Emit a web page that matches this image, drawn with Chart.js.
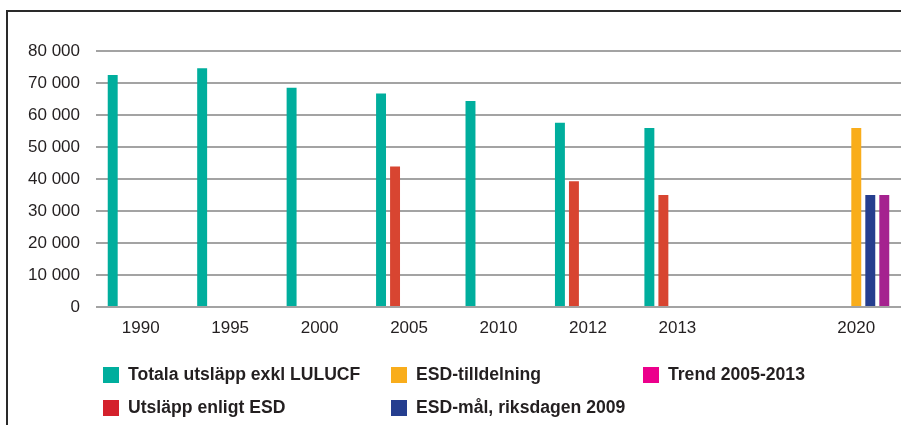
<!DOCTYPE html>
<html>
<head>
<meta charset="utf-8">
<script src="https://cdn.jsdelivr.net/npm/chart.js@4/dist/chart.umd.min.js"></script>
<style>
    html, body { margin: 0; padding: 0; background: #fff; overflow: hidden; }
    #wrap { position: relative; width: 903px; height: 425px; overflow: hidden; }
    .rule { position: absolute; background: #2a2a2a; }
    #ruleTop { left: 6px; top: 10px; width: 895px; height: 2px; }
    #ruleLeft { left: 6px; top: 10px; width: 2px; height: 415px; }
    #chartBox { position: absolute; left: 0; top: 0; width: 903px; height: 425px; }
    #legend { position: absolute; left: 0; top: 0; width: 903px; height: 425px; }
    .item {
        position: absolute; display: flex; align-items: center;
        font: bold 17.6px 'Liberation Sans', Arial, sans-serif; color: #231f20;
        white-space: nowrap;
    }
    .item i { display: inline-block; width: 16px; height: 16px; margin-right: 9px; }
</style>
</head>
<body>
<div id="wrap">
    <div class="rule" id="ruleTop"></div>
    <div class="rule" id="ruleLeft"></div>
    <div id="chartBox"><canvas id="c"></canvas></div>
    <div id="legend"></div>
</div>
<script>
const categories = ['1990', '1995', '2000', '2005', '2010', '2012', '2013', '', '2020'];

const totalaUtslapp = [72500, 74600, 68500, 66700, 64400, 57600, 55900, null, null];
const utslappEsd    = [null, null, null, 43900, null, 39300, 35000, null, null];
const esdTilldelning = [null, null, null, null, null, null, null, null, 55900];
const esdMal        = [null, null, null, null, null, null, null, null, 35000];
const trend         = [null, null, null, null, null, null, null, null, 35000];

const yTicks = [0, 10000, 20000, 30000, 40000, 50000, 60000, 70000, 80000];

const SERIES = [
    { label: 'Totala utsläpp exkl LULUCF', data: totalaUtslapp, bar: '#00ae9d', key: '#00ae9d' },
    { label: 'Utsläpp enligt ESD', data: utslappEsd, bar: '#d84531', key: '#d4212c' },
    { label: 'ESD-tilldelning', data: esdTilldelning, bar: '#f9ad1b', key: '#f9ad1b' },
    { label: 'ESD-mål, riksdagen 2009', data: esdMal, bar: '#253e8f', key: '#253e8f' },
    { label: 'Trend 2005-2013', data: trend, bar: '#a5228f', key: '#ec008c' },
];

const FONT = "'Liberation Sans', Arial, sans-serif";
const TEXT = '#231f20';

const fmt = (v) => String(v).replace(/\B(?=(\d{3})+(?!\d))/g, ' ');

new Chart(document.getElementById('c'), {
    type: 'bar',
    data: {
        labels: categories,
        datasets: SERIES.map((s) => ({
            label: s.label,
            data: s.data,
            backgroundColor: s.bar,
            borderWidth: 0,
            barPercentage: 0.71,
            categoryPercentage: 0.783,
        })),
    },
    options: {
        responsive: true,
        maintainAspectRatio: false,
        animation: false,
        layout: { padding: { top: 51, left: 0, right: 2, bottom: 78 } },
        plugins: {
            legend: { display: false },
            tooltip: { enabled: false },
        },
        scales: {
            x: {
                grid: { display: false },
                border: { display: false },
                ticks: { color: TEXT, font: { family: FONT, size: 17 }, padding: 3, maxRotation: 0, autoSkip: false },
                afterFit: (scale) => { scale.height = 40; },
            },
            y: {
                min: 0,
                max: 80000,
                afterBuildTicks: (scale) => { scale.ticks = yTicks.map((v) => ({ value: v })); },
                grid: { color: '#a3a3a3', lineWidth: 2, drawTicks: false },
                border: { display: false },
                ticks: { color: TEXT, font: { family: FONT, size: 17 }, padding: 16, callback: (v) => fmt(v) },
                afterFit: (scale) => { scale.width = 96; },
            },
        },
    },
});

// legend laid out as in the original: two rows, filled column by column
const legendCols = [103, 391, 643];
const legendRows = [364, 397];
const legend = document.getElementById('legend');
SERIES.forEach((s, i) => {
    const el = document.createElement('div');
    el.className = 'item';
    el.style.left = legendCols[Math.floor(i / 2)] + 'px';
    el.style.top = legendRows[i % 2] + 'px';
    el.innerHTML = '<i style="background:' + s.key + '"></i>' + s.label;
    legend.appendChild(el);
});
</script>
</body>
</html>
